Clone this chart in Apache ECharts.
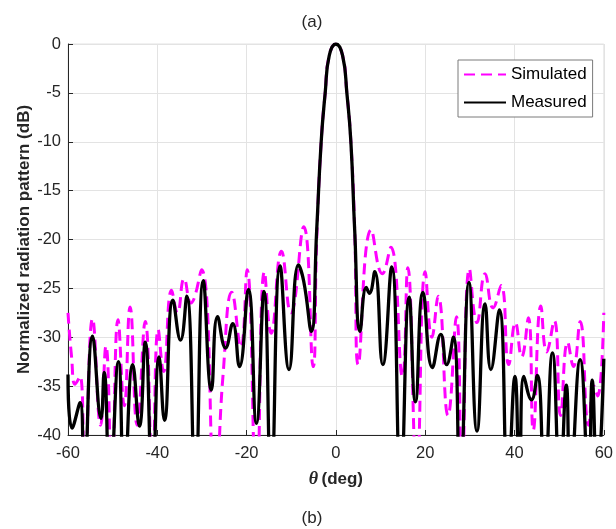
<!DOCTYPE html>
<html>
<head>
<meta charset="utf-8">
<script src="https://cdn.jsdelivr.net/npm/echarts@6/dist/echarts.min.js"></script>
<style>
html,body{margin:0;padding:0;background:#fff;}
#chart{width:616px;height:529px;}
</style>
</head>
<body>
<div id="chart"></div>
<script>
// ---- Data ----
var xTicks = [-60, -40, -20, 0, 20, 40, 60];
var yTicks = [-40, -35, -30, -25, -20, -15, -10, -5, 0];
var seriesNames = ['Simulated', 'Measured'];

// Simulated pattern (theta in deg, normalized dB); values below -40 run off the chart
var simTheta = [-60, -59.2, -58.4, -57.3, -56.3, -54.5, -52.7, -51.5, -50.2, -48.8, -47.4, -46.1, -44.5, -42.7, -41.1, -39.8, -38.6, -36.8, -35.5, -34.0, -32.5, -30.1, -27.0, -25.3, -23.3, -21.3, -19.9, -17.8, -16.0, -14.5, -12.2, -10.1, -7.2, -5.1, -4.3, -3.3, -2.4, -1.5, 0, 1.5, 2.45, 3.35, 4.2, 5.0, 7.9, 10.4, 12.3, 14.9, 16.1, 18.1, 20.0, 21.5, 22.9, 25.1, 27.0, 28.2, 29.9, 31.6, 33.4, 35.2, 37.0, 38.7, 40.2, 41.6, 43.1, 44.2, 45.9, 47.2, 48.9, 50.3, 51.9, 53.2, 54.7, 56.6, 57.8, 58.6, 60];
var simVal   = [-27.5, -32, -34.8, -34.0, -44, -28.1, -39, -30.9, -44, -28.2, -37, -26.9, -39, -28.4, -44, -29.2, -33.5, -25.2, -27.5, -24.0, -26.5, -23.1, -46, -34, -25.4, -31, -23.1, -46, -23.3, -29.6, -21.2, -27.5, -18.7, -33, -20, -10, -5, -1.2, 0, -1.2, -5, -10, -19, -32.8, -19.0, -23.5, -20.8, -34, -22.9, -44, -23.3, -30, -25.8, -38, -27.9, -44, -23.0, -28.5, -23.5, -27, -24.7, -32.8, -28.5, -32, -28, -39.5, -26.8, -31.5, -28.3, -38, -30.5, -33, -28.4, -39, -35, -36, -27.5];

// Measured pattern
var measTheta = [-60, -59.1, -57.3, -56.4, -54.5, -52.6, -51.9, -50.6, -48.7, -47.4, -45.5, -44.0, -42.7, -41.1, -39.6, -38.4, -36.5, -34.8, -33.4, -31.5, -29.7, -27.9, -26.5, -24.7, -23.1, -21.6, -19.6, -17.8, -16.1, -14.5, -12.5, -10.5, -8.4, -7.2, -5.5, -4.3, -3.3, -2.4, -1.5, 0, 1.5, 2.45, 3.35, 4.2, 5.4, 6.8, 7.5, 8.7, 10.5, 12.5, 14.5, 16.4, 17.8, 19.5, 21.6, 23.5, 24.8, 26.3, 27.8, 29.8, 31.6, 33.4, 34.7, 36.6, 38.5, 40.1, 41.1, 42.1, 43.8, 45.1, 46.7, 48.5, 50.2, 51.6, 52.5, 54.7, 56.6, 57.4, 58.5, 60];
var measVal   = [-33.8, -39.3, -36.7, -45, -29.9, -38.3, -33.6, -45, -32.5, -45, -32.8, -39.1, -30.5, -45, -32.0, -38.5, -26.2, -30.3, -25.8, -45, -24.2, -35.4, -27.9, -31.1, -28.6, -33.0, -25.1, -38.8, -25.3, -45, -22.7, -33.3, -22.6, -24.3, -29.4, -19, -10, -5, -1.2, 0, -1.2, -5, -10, -19, -29.4, -24.9, -25.5, -23.3, -32.8, -22.8, -45, -25.9, -36.6, -25.4, -33.1, -29.7, -32.8, -30.0, -45, -24.4, -39.6, -26.6, -33.3, -27.2, -45, -34.0, -45, -34.0, -36.4, -33.9, -45, -31.6, -45, -34.9, -45, -32.3, -45, -34.4, -45, -32.2];

function pairs(xs, ys) {
  var out = [];
  for (var i = 0; i < xs.length; i++) out.push([xs[i], ys[i]]);
  return out;
}

var FONT = '"Liberation Sans", Arial, Helvetica, sans-serif';
var TXT = '#262626';

var chart = echarts.init(document.getElementById('chart'), null, {renderer: 'canvas'});
chart.setOption({
  animation: false,
  backgroundColor: '#ffffff',
  textStyle: {fontFamily: FONT, color: TXT},
  grid: {left: 68, right: 12, top: 44, bottom: 94, show: true, borderColor: '#e3e3e3', borderWidth: 1, containLabel: false},
  graphic: [
    {type: 'text', x: 312, y: 22, style: {text: '(a)', font: '17px ' + FONT, fill: TXT, textAlign: 'center', textVerticalAlign: 'middle'}},
    {type: 'text', x: 312, y: 518, style: {text: '(b)', font: '17px ' + FONT, fill: TXT, textAlign: 'center', textVerticalAlign: 'middle'}}
  ],
  legend: {
    data: seriesNames,
    orient: 'vertical',
    left: 458, top: 60,
    padding: [6, 6, 6, 5],
    itemWidth: 42, itemHeight: 12, itemGap: 11,
    backgroundColor: '#ffffff',
    borderColor: '#7a7a7a', borderWidth: 1,
    itemStyle: {opacity: 0},
    textStyle: {fontFamily: FONT, fontSize: 17, color: '#000'}
  },
  xAxis: {
    type: 'value', min: -60, max: 60, interval: 20,
    axisLine: {show: true, onZero: false, lineStyle: {color: TXT, width: 1}},
    axisTick: {show: true, inside: true, length: 5, lineStyle: {color: TXT}},
    axisLabel: {fontFamily: FONT, fontSize: 16.5, color: TXT, margin: 10},
    splitLine: {show: true, lineStyle: {color: '#e3e3e3', width: 1}},
    name: '{t|θ} {d|(deg)}',
    nameLocation: 'middle', nameGap: 35, nameMoveOverlap: false,
    nameTextStyle: {
      rich: {
        t: {fontFamily: '"Liberation Serif", "Times New Roman", serif', fontStyle: 'italic', fontWeight: 'bold', fontSize: 18, color: TXT},
        d: {fontFamily: FONT, fontWeight: 'bold', fontSize: 17, color: TXT}
      }
    }
  },
  yAxis: {
    type: 'value', min: -40, max: 0, interval: 5,
    axisLine: {show: true, onZero: false, lineStyle: {color: TXT, width: 1}},
    axisTick: {show: true, inside: true, length: 5, lineStyle: {color: TXT}},
    axisLabel: {fontFamily: FONT, fontSize: 16.5, color: TXT, margin: 7},
    splitLine: {show: true, lineStyle: {color: '#e3e3e3', width: 1}},
    name: 'Normalized radiation pattern (dB)',
    nameLocation: 'middle', nameGap: 35, nameMoveOverlap: false,
    nameTextStyle: {fontFamily: FONT, fontWeight: 'bold', fontSize: 17, color: TXT}
  },
  series: [
    {
      name: seriesNames[0], type: 'line', data: pairs(simTheta, simVal),
      symbol: 'none', smooth: 0.5, clip: true,
      lineStyle: {color: '#ff00ff', width: 3, type: [11, 6]},
      itemStyle: {color: '#ff00ff'}
    },
    {
      name: seriesNames[1], type: 'line', data: pairs(measTheta, measVal),
      symbol: 'none', smooth: 0.5, clip: true,
      lineStyle: {color: '#000000', width: 3.3},
      itemStyle: {color: '#000000'}
    }
  ]
});
</script>
</body>
</html>
